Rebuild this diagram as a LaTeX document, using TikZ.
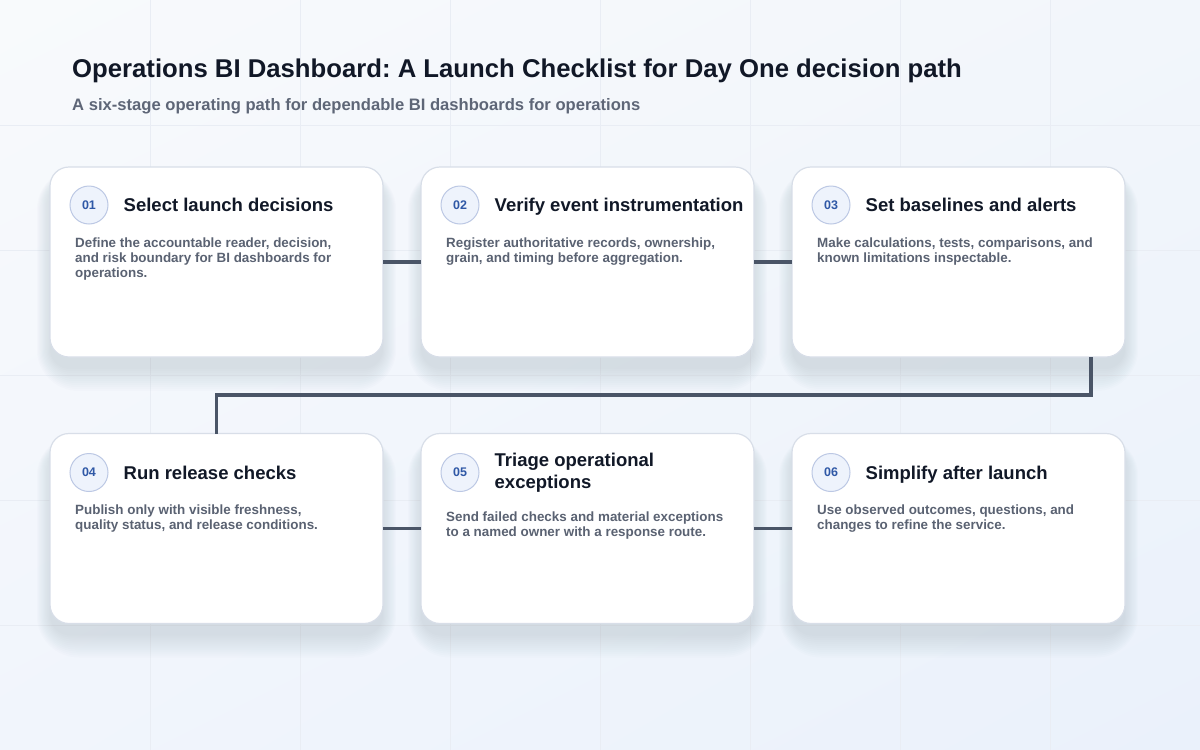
\documentclass[tikz,border=0pt]{standalone}
\usepackage{fontspec}
\setmainfont{Liberation Sans}
\usetikzlibrary{positioning,shadings,backgrounds}
\definecolor{bgul}{HTML}{F8FAFC}
\definecolor{bgur}{HTML}{F2F6FB}
\definecolor{bgll}{HTML}{F1F5FC}
\definecolor{bglr}{HTML}{EAF1FB}
\definecolor{gridcol}{HTML}{E9EDF4}
\definecolor{cardline}{HTML}{D8DEE8}
\definecolor{shadowcol}{HTML}{3A4A6B}
\definecolor{linkcol}{HTML}{4A5567}
\definecolor{ink}{HTML}{111827}
\definecolor{subink}{HTML}{5E6677}
\definecolor{muted}{HTML}{5A6272}
\definecolor{badgefill}{HTML}{EEF3FC}
\definecolor{badgeline}{HTML}{BCC8E4}
\definecolor{badgetext}{HTML}{2F58A6}
\tikzset{
    card/.style={draw=cardline,line width=1.2pt,fill=white,rounded corners=19pt,
        minimum width=333pt,minimum height=190pt,inner sep=0pt,outer sep=0pt},
    badge/.style={circle,draw=badgeline,fill=badgefill,line width=1pt,minimum size=38pt,
        inner sep=0pt,text=badgetext,font=\bfseries\fontsize{12.5}{14}\selectfont},
    stagetitle/.style={inner sep=0pt,text=ink,align=left,font=\bfseries\fontsize{18.5}{22}\selectfont},
    onbase/.style={anchor=base west,yshift=-6.6pt},
    stagebody/.style={inner sep=0pt,anchor=north west,text=muted,align=left,font=\bfseries\fontsize{13.4}{15}\selectfont},
    link/.style={draw=linkcol,line width=3.8pt}
}
\frenchspacing
\begin{document}
\begin{tikzpicture}[x=1pt,y=-1pt,node distance=38pt]
    \useasboundingbox (0,0) rectangle (1200,750);
    % background and faint grid
    \begin{scope}[on background layer]
        \shade[upper left=bgul,upper right=bgur,lower left=bgll,lower right=bglr] (0,0) rectangle (1200,750);
        \foreach \gx in {150,300,...,1050}
            \draw[gridcol,line width=0.8pt] (\gx,0) -- (\gx,750);
        \foreach \gy in {125,250,...,625}
            \draw[gridcol,line width=0.8pt] (0,\gy) -- (1200,\gy);
    \end{scope}

    \node[anchor=base west,inner sep=0pt,text=ink,font=\bfseries\fontsize{25.7}{30}\selectfont] (title) at (72,77)
        {Operations BI Dashboard: A Launch Checklist for Day One decision path};
    \node[anchor=base west,inner sep=0pt,text=subink,font=\bfseries\fontsize{16.6}{19}\selectfont] (subtitle) at (72,110)
        {A six-stage operating path for dependable BI dashboards for operations};

    % cards
    \node[card] (c1) at (216.5,262) {};
    \node[card] (c2) [right=of c1] {};
    \node[card] (c3) [right=of c2] {};
    \node[card] (c4) at (216.5,528.5) {};
    \node[card] (c5) [right=of c4] {};
    \node[card] (c6) [right=of c5] {};

    % soft shadows under the cards
    \begin{scope}[on background layer]
        \foreach \c in {c1,c2,c3,c4,c5,c6}
            \foreach \k in {0,2,...,22}
                \fill[shadowcol,opacity=0.01,rounded corners={20pt+\k pt}]
                    ([xshift=-0.6*\k pt,yshift={-12pt+0.5*\k pt}]\c.north west) rectangle ([xshift=0.6*\k pt,yshift={-12pt-\k pt}]\c.south east);
    \end{scope}

    % connectors
    \path[link]
        (c1) -- (c2)
        (c2) -- (c3)
        (c4) -- (c5)
        (c5) -- (c6);
    \draw[link] ([xshift=132.5pt]c3.south) -- ++(0,38) -| (c4.north);

    % stage contents
    \node[badge] (b1) at ([xshift=39pt,yshift=-38pt]c1.north west) {01};
    \node[stagetitle,right=15pt of b1,onbase] (t1) {Select launch decisions};
    \node[stagebody] (d1) at ([xshift=25pt,yshift=-71pt]c1.north west)
        {Define the accountable reader, decision,\\and risk boundary for BI dashboards for\\operations.};

    \node[badge] (b2) at ([xshift=39pt,yshift=-38pt]c2.north west) {02};
    \node[stagetitle,right=15pt of b2,onbase] (t2) {Verify event instrumentation};
    \node[stagebody] (d2) at ([xshift=25pt,yshift=-71pt]c2.north west)
        {Register authoritative records, ownership,\\grain, and timing before aggregation.};

    \node[badge] (b3) at ([xshift=39pt,yshift=-38pt]c3.north west) {03};
    \node[stagetitle,right=15pt of b3,onbase] (t3) {Set baselines and alerts};
    \node[stagebody] (d3) at ([xshift=25pt,yshift=-71pt]c3.north west)
        {Make calculations, tests, comparisons, and\\known limitations inspectable.};

    \node[badge] (b4) at ([xshift=39pt,yshift=-39pt]c4.north west) {04};
    \node[stagetitle,right=15pt of b4,onbase] (t4) {Run release checks};
    \node[stagebody] (d4) at ([xshift=25pt,yshift=-71pt]c4.north west)
        {Publish only with visible freshness,\\quality status, and release conditions.};

    \node[badge] (b5) at ([xshift=39pt,yshift=-39pt]c5.north west) {05};
    \node[stagetitle,right=15pt of b5] (t5) {Triage operational\\exceptions};
    \node[stagebody] (d5) at ([xshift=25pt,yshift=-78pt]c5.north west)
        {Send failed checks and material exceptions\\to a named owner with a response route.};

    \node[badge] (b6) at ([xshift=39pt,yshift=-39pt]c6.north west) {06};
    \node[stagetitle,right=15pt of b6,onbase] (t6) {Simplify after launch};
    \node[stagebody] (d6) at ([xshift=25pt,yshift=-71pt]c6.north west)
        {Use observed outcomes, questions, and\\changes to refine the service.};
\end{tikzpicture}
\end{document}
